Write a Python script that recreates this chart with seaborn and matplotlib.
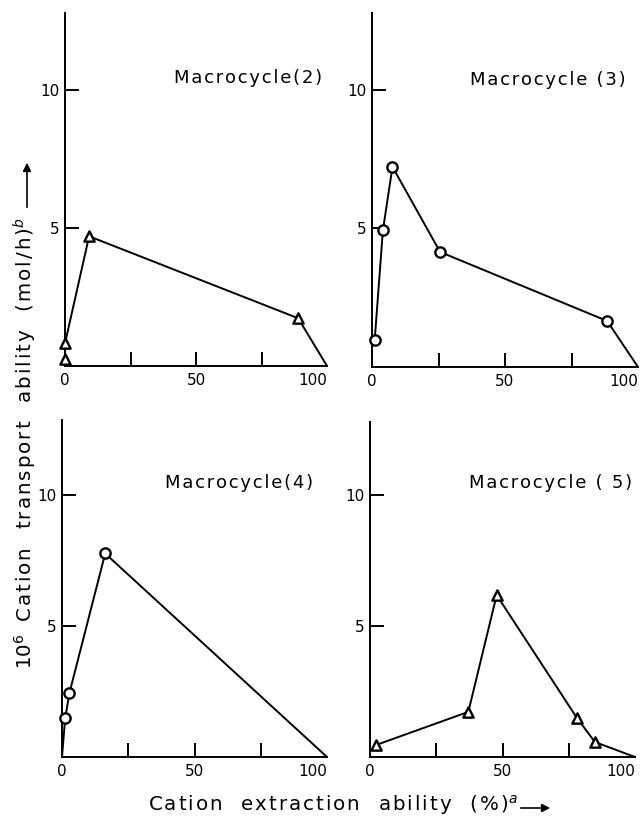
import matplotlib
matplotlib.use("Agg")
import matplotlib.pyplot as plt
import seaborn as sns
import pandas as pd

sns.set_theme(style="white")
plt.rcParams['font.family'] = ['DejaVu Sans']

# ---- data ----
titles = ["Macrocycle(2)", "Macrocycle (3)", "Macrocycle(4)", "Macrocycle ( 5)"]
markers = ["^", "o", "o", "^"]

x2 = [0, 0, 9.2, 89.0, 100]
y2 = [0.25, 0.82, 4.7, 1.73, 0]

x3 = [1.0, 4.1, 7.7, 25.6, 88.4, 100]
y3 = [0.96, 4.93, 7.22, 4.15, 1.66, 0]

x4 = [0, 1.2, 2.8, 16.3, 100]
y4 = [0, 1.47, 2.44, 7.76, 0]

x5 = [2.1, 37.1, 47.8, 78.2, 84.9, 100]
y5 = [0.45, 1.72, 6.17, 1.47, 0.57, 0]

# points drawn with a marker (the final point at 100 is only a line end)
marked = [[0, 1, 2, 3], [0, 1, 2, 3, 4], [1, 2, 3], [0, 1, 2, 3, 4]]

xs = [x2, x3, x4, x5]
ys = [y2, y3, y4, y5]

xtick_pos = [0, 25, 50, 75, 100]
xtick_lab = ["0", "", "50", "", "100"]
ytick_pos = [5, 10]
ytick_lab = ["5", "10"]

xlabel = "Cation extraction ability (%)"
ylabel = "Cation transport ability (mol/h)"

HAIR = "\u200a"


def spaced(s):
    return HAIR.join(s.replace(" ", "  "))


# ---- layout ----
W, H = 644, 825
fig = plt.figure(figsize=(W / 100, H / 100), dpi=100)

# (left, right, bottom, top) in pixels
boxes = [(65, 327, 366, 13), (372, 638, 367, 13), (62, 327, 757, 420), (370, 635, 757, 422)]
ytops = [12.79, 12.77, 12.85, 12.77]
title_pos = [(248, 78), (548, 80), (239, 483), (551, 483)]

for i in range(4):
    l, r, b, t = boxes[i]
    ax = fig.add_axes([l / W, 1 - b / H, (r - l) / W, (b - t) / H])
    df = pd.DataFrame({"x": xs[i], "y": ys[i]})
    sns.lineplot(data=df, x="x", y="y", ax=ax, sort=False, estimator=None,
                 color="black", lw=1.4, clip_on=False)
    dm = df.iloc[marked[i]]
    sns.scatterplot(data=dm, x="x", y="y", ax=ax, marker=markers[i], s=55,
                    facecolor="white", edgecolor="black", linewidth=1.7,
                    clip_on=False, zorder=5)
    ax.set_xlim(0, 100)
    ax.set_ylim(0, ytops[i])
    ax.set_xlabel("")
    ax.set_ylabel("")
    for s in ["top", "right"]:
        ax.spines[s].set_visible(False)
    for s in ["left", "bottom"]:
        ax.spines[s].set_color("black")
        ax.spines[s].set_linewidth(1.4)
    ax.set_xticks(xtick_pos)
    ax.set_xticklabels(xtick_lab)
    ax.set_yticks(ytick_pos)
    ax.set_yticklabels(ytick_lab)
    ax.tick_params(axis="both", direction="in", length=10, width=1.4,
                   color="black", labelsize=11, labelcolor="black",
                   bottom=True, left=True)
    ax.tick_params(axis="x", pad=5)
    ax.tick_params(axis="y", pad=4)
    ticks = ax.xaxis.get_major_ticks()
    ticks[0].tick1line.set_visible(False)
    ticks[-1].tick1line.set_visible(False)
    ax.get_xticklabels()[-1].set_horizontalalignment("right")
    ax.patch.set_alpha(0)
    tx, ty = title_pos[i]
    fig.text(tx / W, 1 - ty / H, HAIR.join(titles[i]), ha="center", va="center",
             fontsize=13, color="black")

fig.text(333 / W, 1 - 805 / H, spaced(xlabel) + r"$^{a}$",
         ha="center", va="center", fontsize=14.3, color="black")
fig.patches.append(matplotlib.patches.FancyArrowPatch(
    (518 / W, 1 - 808 / H), (553 / W, 1 - 808 / H), transform=fig.transFigure,
    arrowstyle="-|>", mutation_scale=12, color="black", lw=1.2))

fig.text(25 / W, 1 - 443 / H, r"10$^{6}$" + "  " + spaced(ylabel) + r"$^{b}$",
         ha="center", va="center", rotation=90, fontsize=14.3, color="black")
fig.patches.append(matplotlib.patches.FancyArrowPatch(
    (27 / W, 1 - 210 / H), (27 / W, 1 - 160 / H), transform=fig.transFigure,
    arrowstyle="-|>", mutation_scale=12, color="black", lw=1.2))

fig.savefig("out.png", dpi=100, facecolor="white")
